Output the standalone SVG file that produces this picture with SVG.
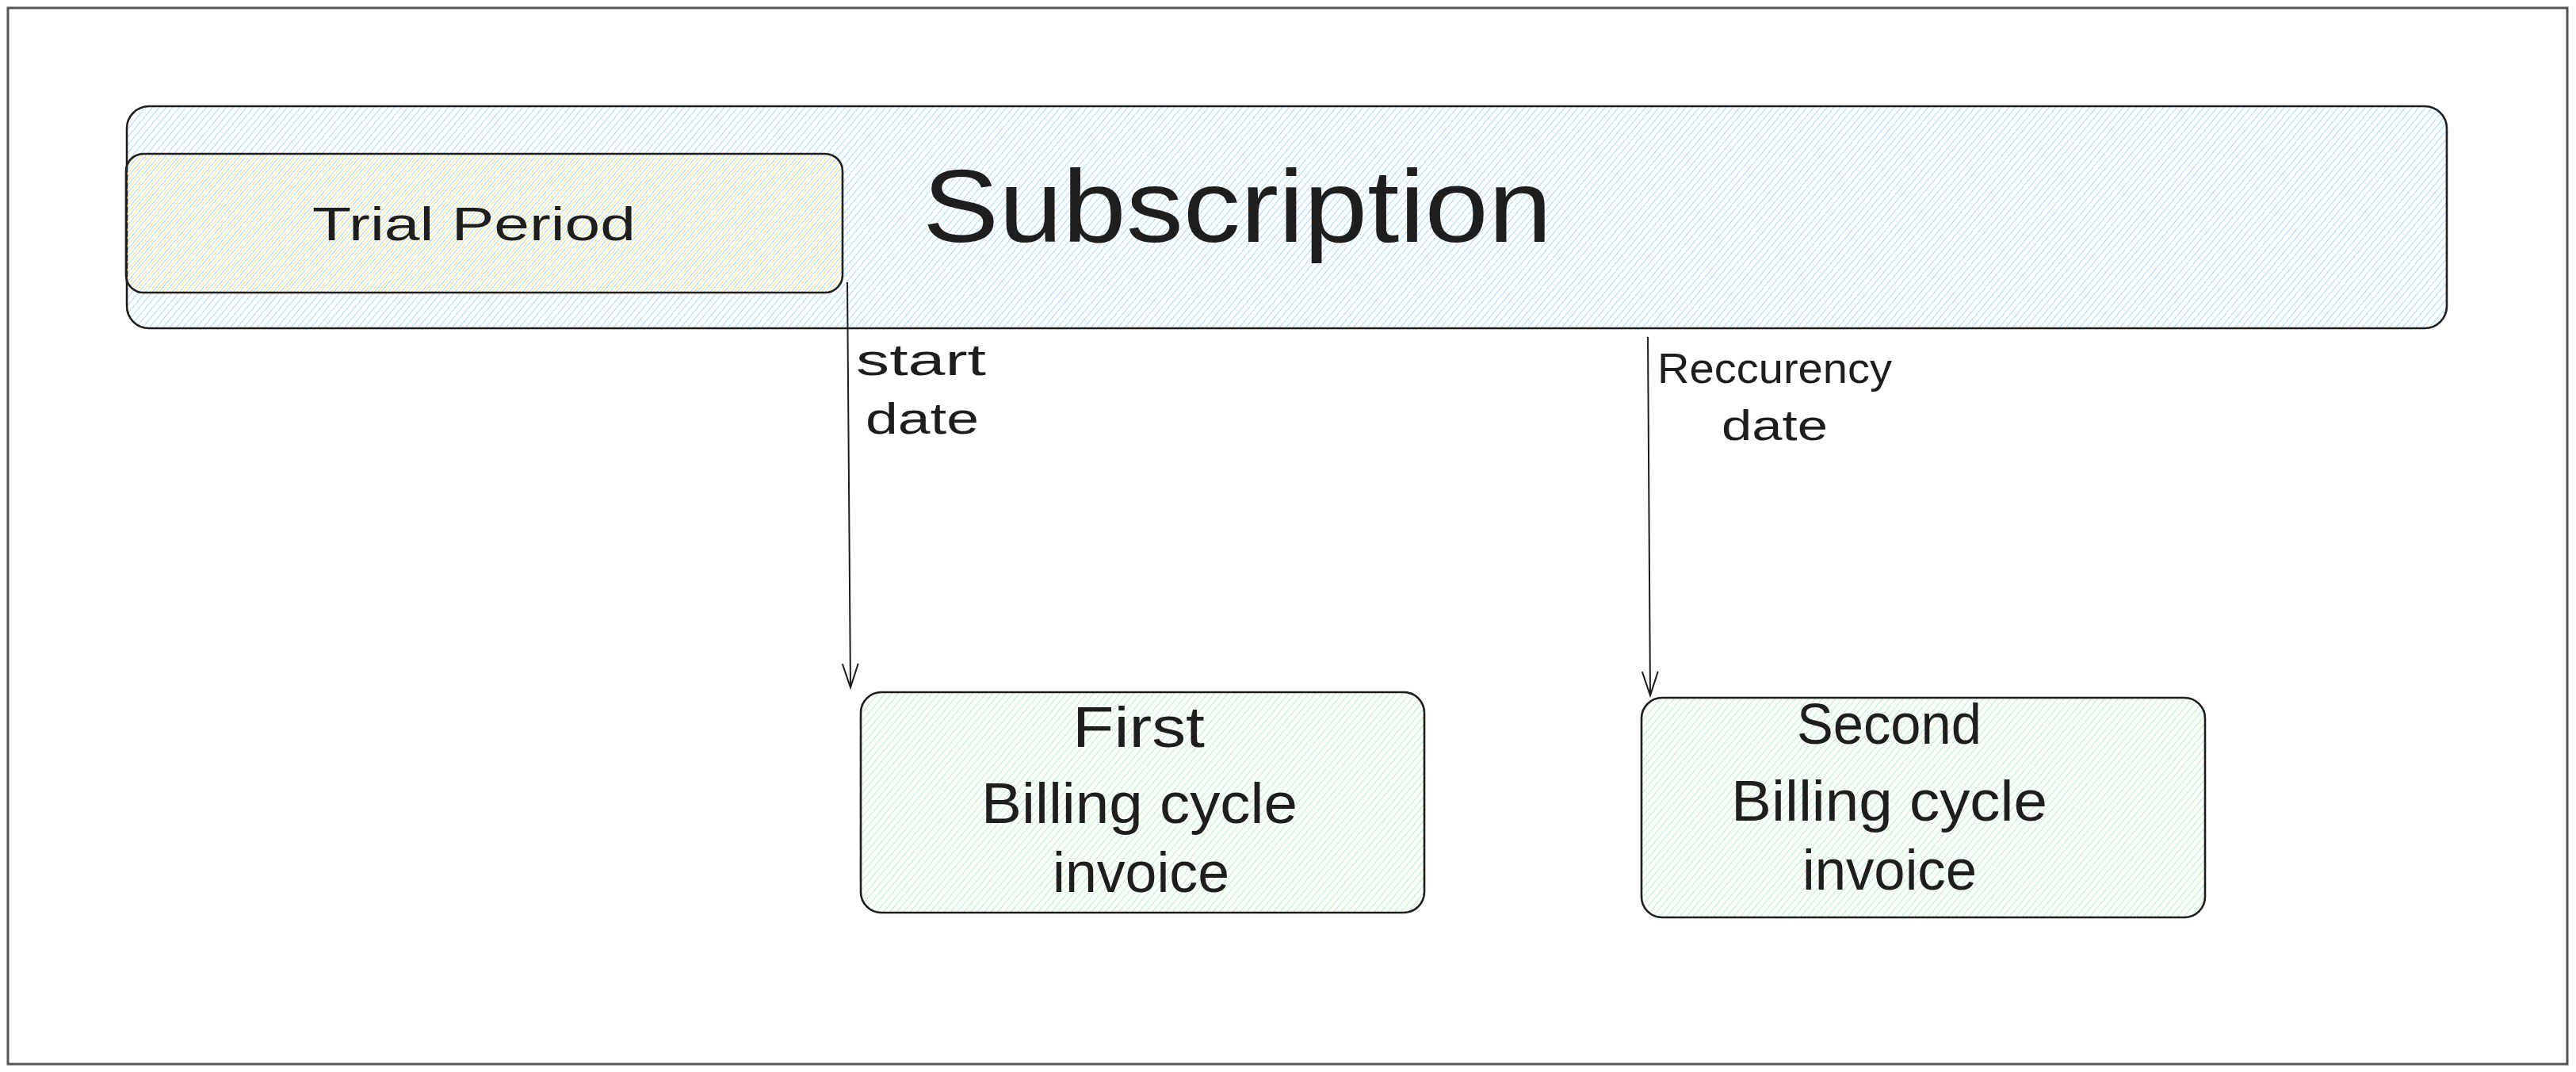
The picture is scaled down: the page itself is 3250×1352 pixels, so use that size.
<svg xmlns="http://www.w3.org/2000/svg" width="3250" height="1352" viewBox="0 0 3250 1352">
<style>
.box{stroke:#1e1e1e;stroke-width:2.6}
.t{font-family:"Liberation Sans",Arial,sans-serif;fill:#1e1e1e}
.conn{fill:none;stroke:#1e1e1e;stroke-width:2}
</style>
<defs>
<pattern id="hBlue" patternUnits="userSpaceOnUse" width="6.5" height="6.5" patternTransform="rotate(40)">
<line x1="0" y1="0" x2="0" y2="6.5" stroke="#a5d8ff" stroke-width="2"/>
</pattern>
<pattern id="hYellow" patternUnits="userSpaceOnUse" width="6.5" height="6.5" patternTransform="rotate(40) translate(3.25 0)">
<line x1="0" y1="0" x2="0" y2="6.5" stroke="#ffe57a" stroke-width="2"/>
</pattern>
<pattern id="hGreen" patternUnits="userSpaceOnUse" width="6.5" height="6.5" patternTransform="rotate(40)">
<line x1="0" y1="0" x2="0" y2="6.5" stroke="#b2f2bb" stroke-width="2"/>
</pattern>
<marker id="arr" markerUnits="userSpaceOnUse" orient="auto" markerWidth="40" markerHeight="40" refX="0" refY="0" overflow="visible">
<path d="M-30,-10 L0,0 L-30,10" fill="none" stroke="#1e1e1e" stroke-width="2"/>
</marker>
</defs>
<rect x="0" y="0" width="3250" height="1352" fill="#ffffff"/>
<rect id="frame" x="10" y="10" width="3229" height="1332" fill="none" stroke="#555555" stroke-width="3"/>

<g id="subscription">
<rect class="box" x="160" y="134" width="2927" height="280" rx="28" fill="url(#hBlue)"/>
<text class="t" x="1164" y="305" font-size="130" textLength="794" lengthAdjust="spacingAndGlyphs">Subscription</text>
</g>

<g id="trial-period">
<rect class="box" x="159" y="194" width="904" height="175" rx="22" fill="url(#hYellow)"/>
<text class="t" x="394" y="303" font-size="60" textLength="408" lengthAdjust="spacingAndGlyphs">Trial Period</text>
</g>

<g id="first-billing">
<rect class="box" x="1086" y="873" width="711" height="278" rx="26" fill="url(#hGreen)"/>
<text class="t" font-size="72">
<tspan x="1353" y="942" textLength="167" lengthAdjust="spacingAndGlyphs">First</tspan>
<tspan x="1238" y="1038" textLength="399" lengthAdjust="spacingAndGlyphs">Billing cycle</tspan>
<tspan x="1328" y="1125" textLength="223" lengthAdjust="spacingAndGlyphs">invoice</tspan>
</text>
</g>

<g id="second-billing">
<rect class="box" x="2071" y="880" width="711" height="277" rx="26" fill="url(#hGreen)"/>
<text class="t" font-size="72">
<tspan x="2267" y="938" textLength="233" lengthAdjust="spacingAndGlyphs">Second</tspan>
<tspan x="2184" y="1035" textLength="399" lengthAdjust="spacingAndGlyphs">Billing cycle</tspan>
<tspan x="2274" y="1122" textLength="220" lengthAdjust="spacingAndGlyphs">invoice</tspan>
</text>
</g>

<g id="connectors">
<path class="conn" d="M1069,356 L1073,867" marker-end="url(#arr)"/>
<text class="t" font-size="56">
<tspan x="1080" y="473" textLength="164" lengthAdjust="spacingAndGlyphs">start</tspan>
<tspan x="1092" y="547" textLength="143" lengthAdjust="spacingAndGlyphs">date</tspan>
</text>
<path class="conn" d="M2079,425 L2082,877" marker-end="url(#arr)"/>
<text class="t" font-size="54">
<tspan x="2091" y="483" textLength="296" lengthAdjust="spacingAndGlyphs">Reccurency</tspan>
<tspan x="2172" y="555" textLength="134" lengthAdjust="spacingAndGlyphs">date</tspan>
</text>
</g>
</svg>
